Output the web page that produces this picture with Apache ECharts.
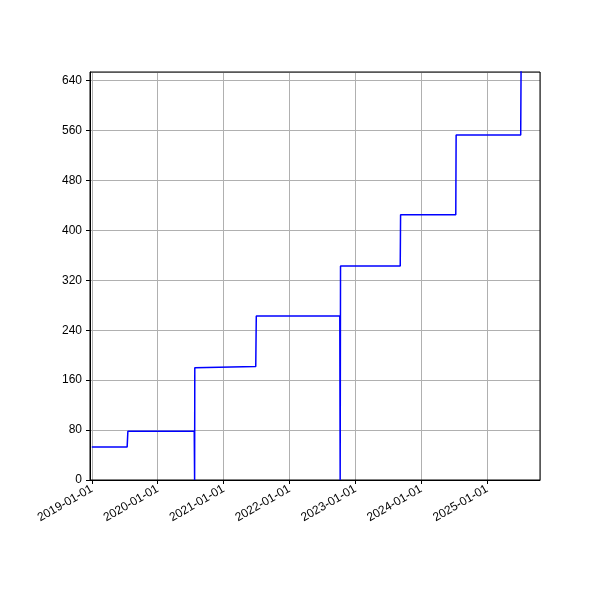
<!DOCTYPE html>
<html>
<head>
<meta charset="utf-8">
<script src="https://cdn.jsdelivr.net/npm/echarts@6/dist/echarts.min.js"></script>
<style>html,body{margin:0;background:#fff}#c{width:600px;height:600px}</style>
</head>
<body>
<div id="c"></div>
<script>
let dates = ["2019-01-01","2019-07-16","2019-07-18","2019-07-20","2020-07-22","2020-07-24","2020-07-25",
  "2021-06-28","2021-07-01","2022-10-07","2022-10-09","2022-10-11","2023-09-07","2023-09-09",
  "2024-07-11","2024-07-13","2025-07-06","2025-07-08"]
let values = [53,53,50,78,78,0,180,182,263,263,0,343,343,425,425,553,553,656]

let points = dates.map((d,i)=>[d,values[i]])

let chart = echarts.init(document.getElementById("c"))
chart.setOption({
  animation:false,
  grid:{left:90,right:60,top:72,bottom:120},
  xAxis:{
    type:"time",
    min:"2018-12-22",
    max:"2025-10-21",
    minInterval:365*86400000,
    maxInterval:366*86400000,
    axisLine:{lineStyle:{color:"#000"}},
    axisTick:{show:true,length:4,lineStyle:{color:"#000"}},
    axisLabel:{rotate:30,color:"#000",fontSize:12,formatter:"{yyyy}-{MM}-{dd}",hideOverlap:false,showMinLabel:false,showMaxLabel:false},
    splitLine:{show:true,lineStyle:{color:"#b0b0b0",width:1}}
  },
  yAxis:{
    type:"value",
    min:0,max:654,interval:80,
    axisLine:{show:true,lineStyle:{color:"#000"}},
    axisTick:{show:true,length:4,lineStyle:{color:"#000"}},
    axisLabel:{color:"#000",fontSize:12,showMaxLabel:false},
    splitLine:{show:true,lineStyle:{color:"#b0b0b0",width:1}}
  },
  series:[{
    type:"line",
    data:points,
    showSymbol:false,
    lineStyle:{color:"#0000ff",width:1.5},
    clip:true
  }]
})
// box on top and right
chart.setOption({graphic:[{type:"rect",shape:{x:90,y:72,width:450,height:408},style:{fill:null,stroke:"#000",lineWidth:1},silent:true}]})
</script>
</body>
</html>
